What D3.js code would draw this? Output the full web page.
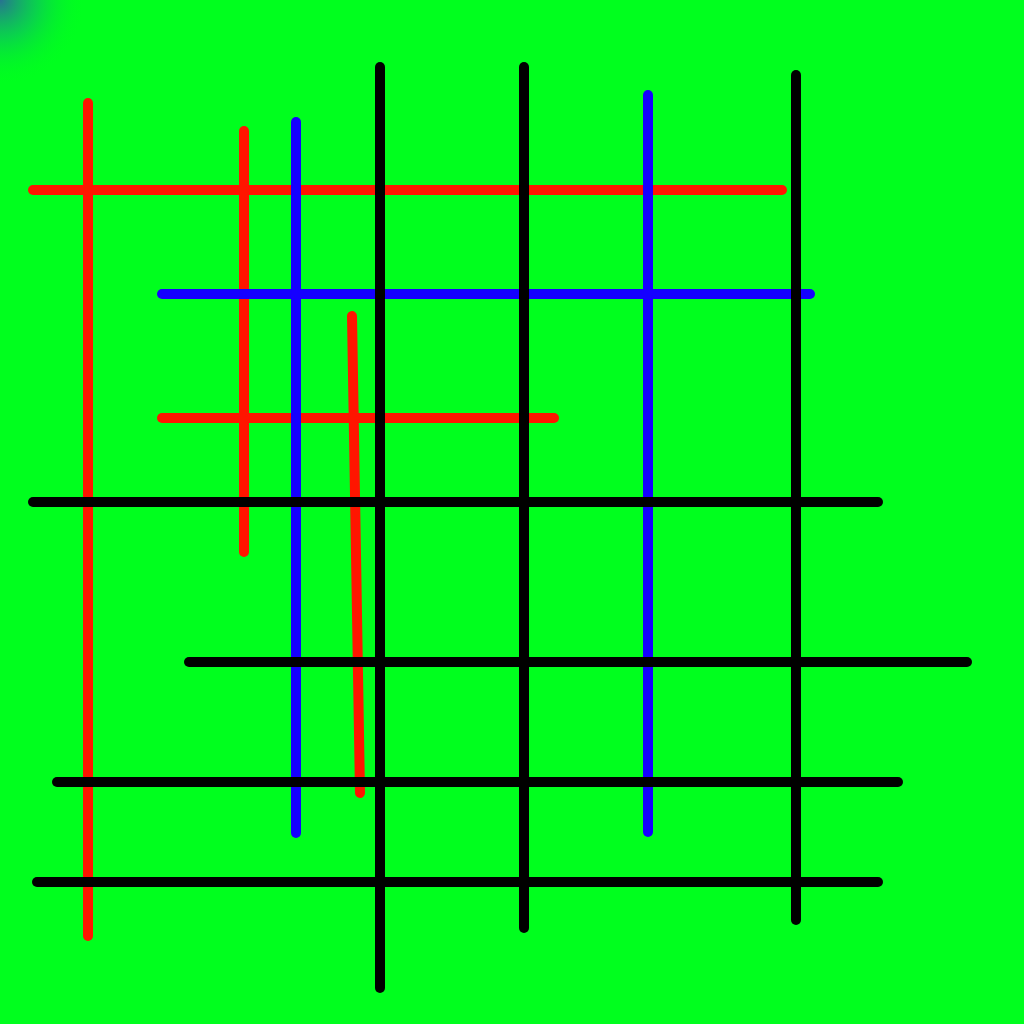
<!DOCTYPE html>
<html>
<head>
<meta charset="utf-8">
<script src="https://cdn.jsdelivr.net/npm/d3@7"></script>
<style>
  html, body { margin: 0; padding: 0; background: #00ff1e; }
  svg { display: block; }
</style>
</head>
<body>
<script>
var w = 1024;
var h = 1024;

// segments as [x1, y1, x2, y2] in picture units
var redLines = [
  [88, 103, 88, 936],
  [244, 131, 244, 552],
  [33, 190, 782, 190],
  [162, 418, 554, 418],
  [352, 316, 360, 793]
];
var blueLines = [
  [296, 122, 296, 833],
  [648, 95, 648, 832],
  [162, 294, 810, 294]
];
var blackLines = [
  [380, 67, 380, 988],
  [524, 67, 524, 928],
  [796, 75, 796, 920],
  [33, 502, 878, 502],
  [189, 662, 967, 662],
  [57, 782, 898, 782],
  [37, 882, 878, 882]
];

var groups = [
  {name: 'red', color: '#ff1500', lines: redLines},
  {name: 'blue', color: '#1500ff', lines: blueLines},
  {name: 'black', color: '#000000', lines: blackLines}
];

var x = d3.scaleLinear().domain([0, 1024]).range([0, w]);
var y = d3.scaleLinear().domain([0, 1024]).range([0, h]);

var svg = d3.select('body').append('svg')
    .attr('width', w)
    .attr('height', h);

var defs = svg.append('defs');
var corner = defs.append('radialGradient')
    .attr('id', 'corner')
    .attr('gradientUnits', 'userSpaceOnUse')
    .attr('cx', 0).attr('cy', 0).attr('r', 85);
corner.append('stop').attr('offset', 0).attr('stop-color', '#2a6a98').attr('stop-opacity', 0.95);
corner.append('stop').attr('offset', 0.45).attr('stop-color', '#12a878').attr('stop-opacity', 0.5);
corner.append('stop').attr('offset', 1).attr('stop-color', '#00ff1e').attr('stop-opacity', 0);

svg.append('rect')
    .attr('width', w).attr('height', h)
    .attr('fill', '#00ff1e');
svg.append('rect')
    .attr('width', w).attr('height', h)
    .attr('fill', 'url(#corner)');

groups.forEach(function(g){
  svg.append('g').attr('class', g.name)
    .selectAll('line').data(g.lines).enter().append('line')
      .attr('x1', function(d){ return x(d[0]); })
      .attr('y1', function(d){ return y(d[1]); })
      .attr('x2', function(d){ return x(d[2]); })
      .attr('y2', function(d){ return y(d[3]); })
      .attr('stroke', g.color)
      .attr('stroke-width', 10)
      .attr('stroke-linecap', 'round');
});
</script>
</body>
</html>
